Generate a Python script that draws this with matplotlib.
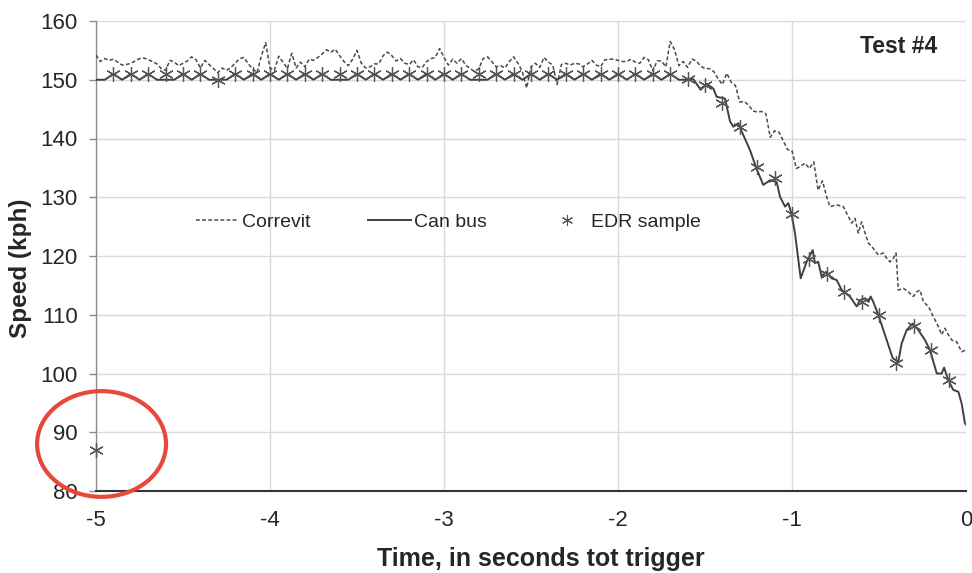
import numpy as np
import matplotlib
matplotlib.use("Agg")
import matplotlib.pyplot as plt
from matplotlib.patches import Ellipse
from matplotlib.lines import Line2D

# ---------------- data ----------------
x_ticks = [-5, -4, -3, -2, -1, 0]
x_tick_labels = ["-5", "-4", "-3", "-2", "-1", "0"]
y_ticks = [80, 90, 100, 110, 120, 130, 140, 150, 160]

# Correvit speed, sampled every 0.025 s from -5.0 s to -0.825 s
correvit_grid_v = [
    154.2, 153.1, 153.6, 153.3, 153.5, 153.0, 152.5, 152.6, 152.8, 153.2,
    153.6, 153.7, 153.4, 153.1, 152.7, 151.9, 151.6, 153.3, 153.0, 152.4,
    152.8, 153.2, 153.9, 153.4, 152.0, 153.3, 152.6, 151.9, 151.2, 152.0,
    151.6, 152.1, 152.8, 153.6, 153.8, 152.7, 151.9, 151.2, 154.0, 156.3,
    152.0, 151.6, 154.0, 153.0, 151.9, 154.5, 152.0, 153.0, 152.2, 153.5,
    153.3, 153.8, 154.4, 155.1, 154.7, 155.2, 154.1, 153.1, 152.4, 153.5,
    155.0, 152.8, 152.0, 152.2, 152.7, 152.7, 154.1, 154.7, 154.1, 153.2,
    153.6, 152.8, 152.6, 153.4, 152.2, 152.1, 153.1, 153.6, 153.8, 155.3,
    153.8, 152.5, 153.5, 152.8, 153.6, 152.5, 151.9, 151.4, 151.9, 153.6,
    153.9, 153.1, 152.2, 152.4, 152.0, 153.1, 153.9, 152.8, 151.4, 148.6,
    152.2, 152.8, 152.1, 153.8, 153.0, 152.5, 149.2, 152.6, 152.8, 152.5,
    152.8, 152.7, 152.2, 152.7, 153.3, 152.5, 152.2, 153.4, 153.5, 153.5,
    153.3, 153.1, 153.1, 153.5, 153.0, 152.8, 153.8, 153.4, 151.5, 153.2,
    153.2, 152.2, 156.5, 155.1, 152.4, 153.1, 152.1, 153.5, 153.2, 152.3,
    151.9, 151.9, 151.4, 150.2, 149.2, 151.1, 149.6, 149.0, 146.2, 146.3,
    145.7, 144.7, 144.5, 144.6, 144.2, 140.2, 141.3, 141.1, 139.6, 138.1,
    137.9, 134.9, 135.3, 135.8, 134.9, 136.0, 131.2, 132.8,
]
correvit_grid_start = -5.0
correvit_grid_step = 0.025
correvit_tail_t = [
    -0.800, -0.782, -0.743, -0.705, -0.676, -0.657, -0.638, -0.619, -0.600,
    -0.580, -0.561, -0.533, -0.504, -0.475, -0.456, -0.437, -0.418, -0.402,
    -0.389, -0.360, -0.332, -0.303, -0.283, -0.264, -0.245, -0.216, -0.188,
    -0.159, -0.140, -0.121, -0.102, -0.082, -0.054, -0.025, 0.000,
]
correvit_tail_v = [
    130.0, 128.4, 128.7, 128.4, 126.7, 125.6, 126.4, 123.9, 125.8,
    123.9, 122.2, 121.3, 120.2, 120.5, 119.6, 119.0, 119.6, 120.5,
    114.2, 114.5, 113.9, 113.1, 113.9, 114.2, 112.2, 111.4, 109.7,
    108.0, 106.6, 107.7, 106.6, 105.7, 105.4, 103.7, 104.0,
]

# CAN bus speed, every 0.05 s from -5.0 s to -1.65 s, then irregular points
canbus_grid_v = [
    150, 150, 151, 150, 151, 150, 151, 150, 150, 150,
    151, 150, 151, 150, 150, 150, 151, 150, 151, 150,
    151, 150, 151, 150, 151, 150, 151, 150, 150, 150,
    151, 150, 151, 150, 151, 150, 151, 150, 151, 150,
    151, 150, 151, 150, 150, 150, 151, 150, 151, 150,
    151, 150, 151, 150, 151, 150, 151, 150, 151, 150,
    151, 150, 151, 150, 151, 150, 151, 150,
]
canbus_grid_start = -5.0
canbus_grid_step = 0.05
canbus_tail_t = [
    -1.600, -1.567, -1.525, -1.490, -1.452, -1.433, -1.385, -1.356, -1.337,
    -1.309, -1.289, -1.241, -1.207, -1.165, -1.126, -1.088, -1.069, -1.040,
    -1.021, -1.002, -0.983, -0.950, -0.916, -0.881, -0.868, -0.849, -0.830,
    -0.805, -0.772, -0.743, -0.714, -0.667, -0.628, -0.609, -0.580, -0.561,
    -0.548, -0.533, -0.504, -0.475, -0.447, -0.421, -0.389, -0.370, -0.341,
    -0.306, -0.274, -0.236, -0.207, -0.168, -0.140, -0.126, -0.102, -0.073,
    -0.044, -0.025, -0.006, 0.000,
]
canbus_tail_v = [
    150.0, 150.1, 148.3, 149.3, 148.5, 147.1, 146.8, 142.9, 142.0,
    142.6, 141.2, 138.0, 135.1, 132.1, 132.9, 132.6, 130.1, 128.4,
    129.0, 127.1, 123.9, 116.2, 119.0, 121.0, 118.8, 119.0, 116.5,
    117.3, 116.2, 115.9, 114.2, 113.1, 111.4, 112.5, 112.8, 112.2,
    113.1, 112.2, 110.0, 107.4, 104.9, 102.6, 102.0, 105.1, 107.4,
    108.5, 107.4, 105.7, 104.0, 100.0, 100.0, 101.0, 98.9, 97.2,
    96.9, 94.9, 91.5, 91.3,
]

# EDR samples, every 0.1 s from -5.0 s to -0.1 s
edr_start = -5.0
edr_step = 0.1
edr_v = [
    87,
    151, 151, 151, 151, 151, 151, 150, 151, 151, 151,
    151, 151, 151, 151, 151, 151, 151, 151, 151, 151,
    151, 151, 151, 151, 151, 151, 151, 151, 151, 151,
    151, 151, 151,
    150.1, 149.1, 146.0, 142.0, 135.1, 133.2, 127.1, 119.5,
    117.0, 113.9, 112.2, 110.0, 101.8, 108.1, 104.0, 98.9,
]

# ---------------- build series ----------------
corr_t = np.concatenate([
    correvit_grid_start + correvit_grid_step * np.arange(len(correvit_grid_v)),
    np.array(correvit_tail_t)])
corr_v = np.concatenate([np.array(correvit_grid_v), np.array(correvit_tail_v)])

can_t = np.concatenate([
    canbus_grid_start + canbus_grid_step * np.arange(len(canbus_grid_v)),
    np.array(canbus_tail_t)])
can_v = np.concatenate([np.array(canbus_grid_v, dtype=float), np.array(canbus_tail_v)])

edr_t = edr_start + edr_step * np.arange(len(edr_v))

# ---------------- plot ----------------
plt.rcParams['font.family'] = ['Liberation Sans', 'DejaVu Sans']
text_color = '#262626'

fig = plt.figure(figsize=(9.72, 5.73), dpi=100)
ax = fig.add_axes([96 / 972, 1 - 491 / 573, 870 / 972, 470 / 573])

ax.plot(corr_t, corr_v, color='#4a4a4a', lw=1.1, linestyle=(0, (2.5, 1.5)),
        zorder=3)
ax.plot(can_t, can_v, color='#404040', lw=1.4, zorder=4)
ax.plot(edr_t, edr_v, linestyle='none', marker=(6, 2, 0), markersize=10.5,
        markeredgewidth=0.9, color='#555555', zorder=5, clip_on=False)

ax.set_xlim(-5, 0)
ax.set_ylim(80, 160)
ax.set_xticks(x_ticks)
ax.set_xticklabels(x_tick_labels)
ax.set_yticks(y_ticks)
ax.grid(True, color='#d9d9d9', lw=1.0)
ax.set_axisbelow(True)

for s in ['top', 'right']:
    ax.spines[s].set_visible(False)
ax.spines['left'].set_color('#8c8c8c')
ax.spines['left'].set_linewidth(1.0)
ax.spines['bottom'].set_color('#333333')
ax.spines['bottom'].set_linewidth(1.5)
ax.spines['bottom'].set_zorder(6)

ax.tick_params(axis='y', length=5, width=1, color='#8c8c8c', pad=8,
               labelsize=16, labelcolor=text_color)
ax.tick_params(axis='x', length=0, pad=14, labelsize=16, labelcolor=text_color)

ax.set_ylabel('Speed (kph)', fontsize=17.5, fontweight='bold', color=text_color)
ax.yaxis.set_label_coords(-0.074, 0.474)
ax.set_xlabel('Time, in seconds tot trigger', fontsize=18, fontweight='bold',
              color=text_color)
ax.xaxis.set_label_coords(0.511, -0.119)

ax.text(0.922, 0.945, 'Test #4', transform=ax.transAxes, ha='center',
        va='center', fontsize=16.5, fontweight='bold', color=text_color)

handles = [
    Line2D([], [], color='#4a4a4a', lw=1.1, linestyle=(0, (2.5, 1.5))),
    Line2D([], [], color='#404040', lw=1.4),
    Line2D([], [], linestyle='none', marker=(6, 2, 0), markersize=8,
           markeredgewidth=0.8, color='#555555'),
]
ax.legend(handles, ['Correvit', 'Can bus', 'EDR sample'], ncol=3,
          loc='center', bbox_to_anchor=(0.405, 0.572), frameon=False,
          fontsize=14, handlelength=2.2, handletextpad=0.15,
          columnspacing=3.0, labelcolor=text_color)

ell = Ellipse((-4.968, 88.0), 0.741, 18.0, fill=False, edgecolor='#e8473a',
              lw=3, clip_on=False, zorder=10)
ax.add_patch(ell)

fig.savefig('out.png', dpi=100)
